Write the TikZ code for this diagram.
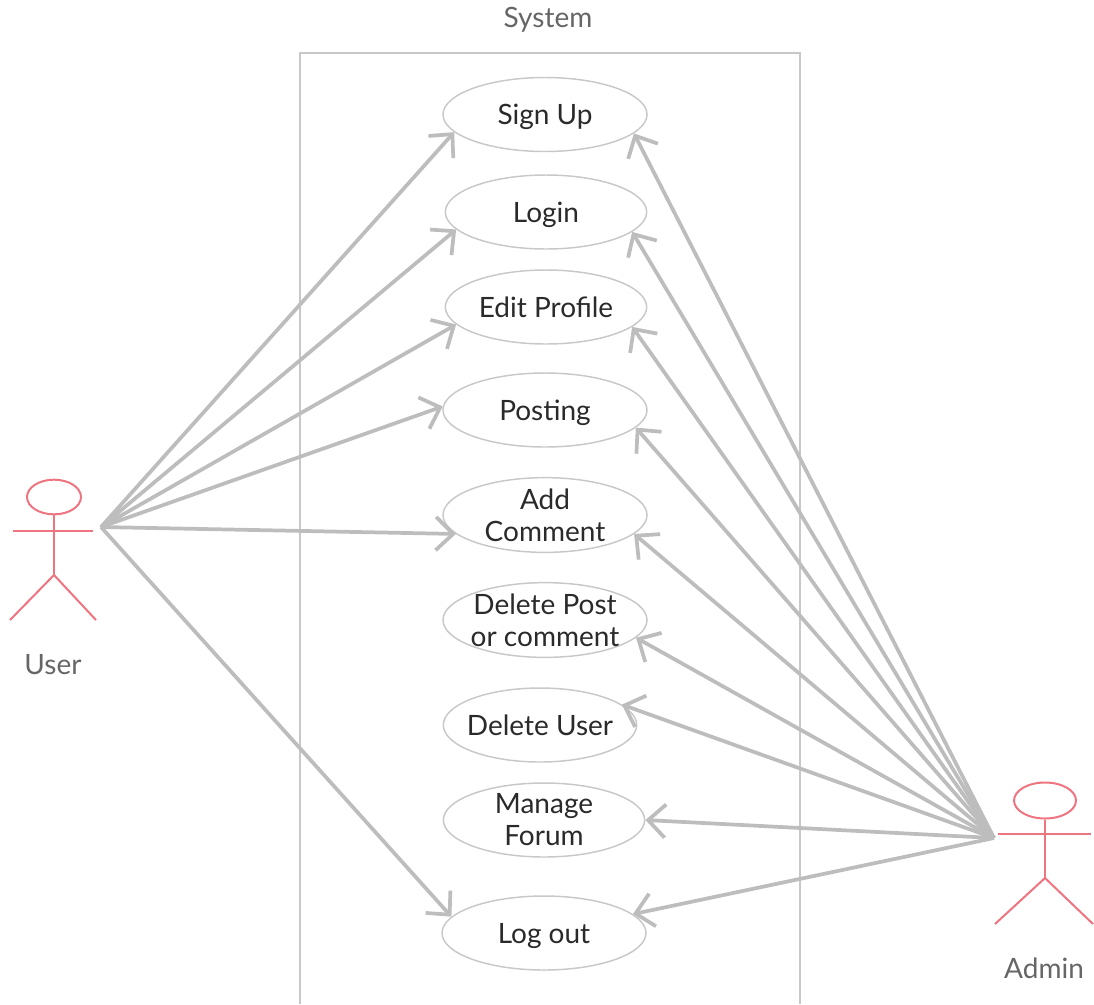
\documentclass[tikz,border=0pt]{standalone}
\usepackage{fontspec}
\setmainfont{Lato}
\usetikzlibrary{shapes.geometric,arrows.meta}
\definecolor{linegrey}{HTML}{BDBDBD}
\definecolor{framegrey}{HTML}{C8C8C8}
\definecolor{actorred}{HTML}{EE7480}
\definecolor{labelgrey}{HTML}{666666}
\definecolor{inktext}{HTML}{2A2A2A}
\tikzset{
  usecase/.style={ellipse,draw=framegrey,line width=1.1pt,minimum height=55.5pt,inner xsep=-8pt,inner ysep=0pt,align=center,text=inktext,font=\fontsize{21}{24}\selectfont},
  oneline/.style={text depth=0pt},
  link/.style={draw=linegrey,line width=2.8pt,-{Straight Barb[length=13pt,width=25pt,line width=2.8pt]}},
  actorline/.style={draw=actorred,line width=1.5pt},
  actorlabel/.style={text=labelgrey,font=\fontsize{21}{24}\selectfont}
}
\begin{document}
\begin{tikzpicture}[x=0.75pt,y=-0.75pt]
\useasboundingbox (0,0) rectangle (1094,1004);
\draw[framegrey,line width=1pt] (300,1004) -- (300,53) -- (800,53) -- (800,1004);
\node[actorlabel] (systemlabel) at (548,20) {System};
\node[usecase,oneline,minimum width=153pt] (signup) at (545,114.5) {Sign Up};
\node[usecase,oneline,minimum width=151pt] (login) at (546,212) {Login};
\node[usecase,oneline,minimum width=151pt] (edit) at (546,307) {Edit Profile};
\node[usecase,oneline,minimum width=153pt] (posting) at (545,410) {Posting};
\node[usecase,minimum width=153pt] (addc) at (545,515) {Add\\Comment};
\node[usecase,minimum width=153pt] (delpost) at (545,620) {Delete Post\\or comment};
\node[usecase,oneline,minimum width=145pt] (deluser) at (540,725) {Delete User};
\node[usecase,minimum width=151pt] (manage) at (544,820) {Manage\\Forum};
\node[usecase,oneline,minimum width=153pt] (logout) at (544,933) {Log out};
% User actor
\node[ellipse,actorline,minimum width=40.5pt,minimum height=26pt,inner sep=0pt] (userhead) at (54,497) {};
\coordinate (userhip) at (54,575);
\coordinate (userarml) at (13,531);
\coordinate (userarmr) at (93,531);
\coordinate (userfootl) at (10,620);
\coordinate (userfootr) at (96,620);
\draw[actorline] (userhead.south) -- (userhip);
\draw[actorline] (userarml) -- (userarmr);
\draw[actorline] (userfootl) -- (userhip) -- (userfootr);
\node[actorlabel] (userlabel) at (53,665) {User};
\coordinate (userport) at (101,527);
% Admin actor
\node[ellipse,actorline,minimum width=46.5pt,minimum height=27pt,inner sep=0pt] (adminhead) at (1045,800.5) {};
\coordinate (adminhip) at (1045,878);
\coordinate (adminarml) at (998,834);
\coordinate (adminarmr) at (1091,834);
\coordinate (adminfootl) at (995,924);
\coordinate (adminfootr) at (1093,924);
\draw[actorline] (adminhead.south) -- (adminhip);
\draw[actorline] (adminarml) -- (adminarmr);
\draw[actorline] (adminfootl) -- (adminhip) -- (adminfootr);
\node[actorlabel] (adminlabel) at (1044,968) {Admin};
\coordinate (adminport) at (994,838);
% User links
\draw[link] (userport) -- (signup.191);
\draw[link] (userport) -- (login.191);
\draw[link] (userport) -- (edit.191);
\draw[link] (userport) -- (posting.178);
\draw[link] (userport) -- (addc.192);
\draw[link] (userport) -- (logout.170);
% Admin links
\draw[link] (adminport) -- (signup.-12);
\draw[link] (adminport) -- (login.-13);
\draw[link] (adminport) -- (edit.-13);
\draw[link] (adminport) -- (posting.-11);
\draw[link] (adminport) -- (addc.-12);
\draw[link] (adminport) -- (delpost.-11);
\draw[link] (adminport) -- (deluser.14);
\draw[link] (adminport) -- (manage.0);
\draw[link] (adminport) -- (logout.12);
\end{tikzpicture}
\end{document}
